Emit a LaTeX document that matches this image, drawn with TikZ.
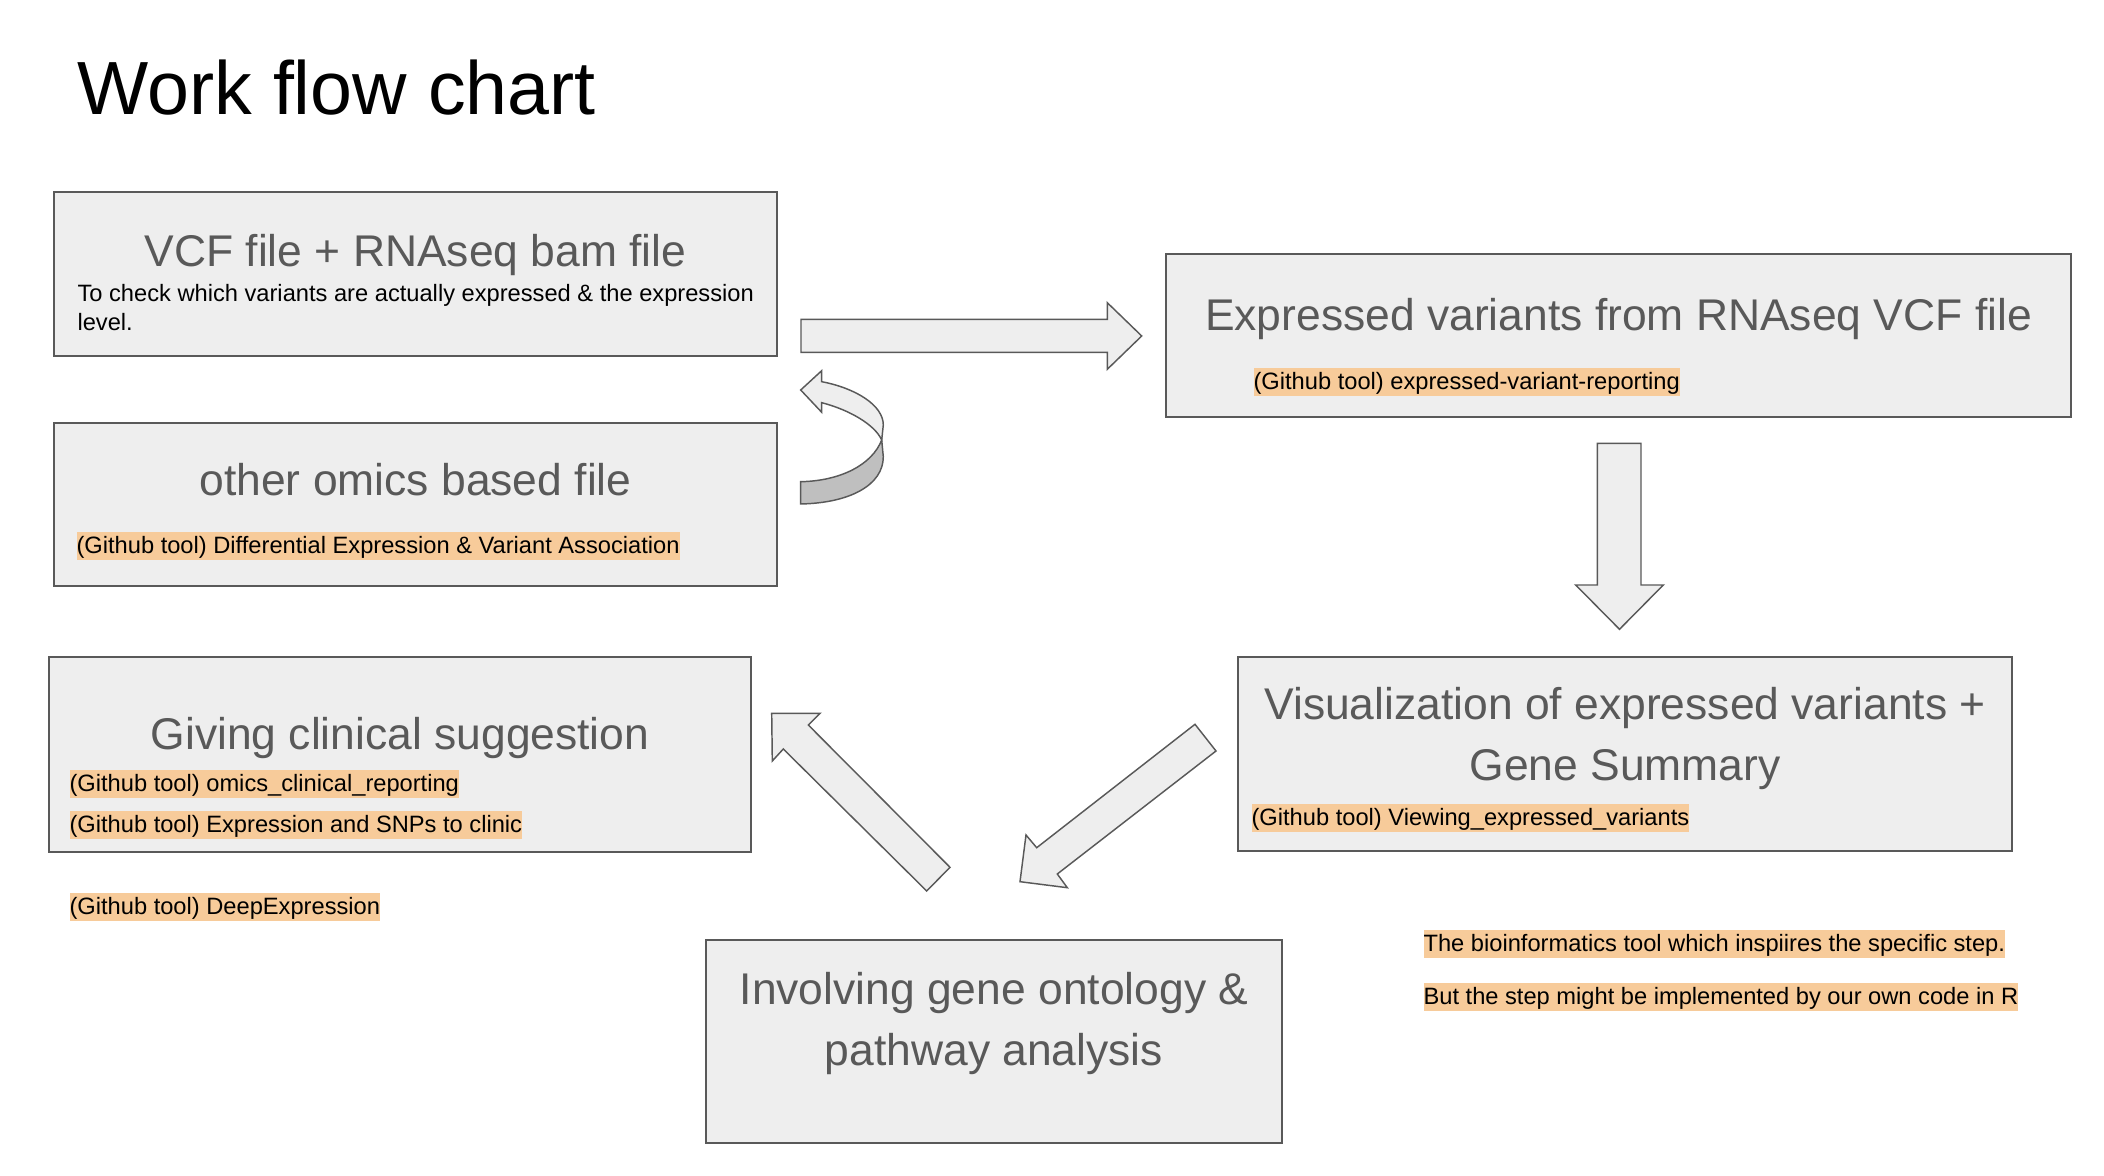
\documentclass[tikz,border=0pt]{standalone}
\usepackage{fontspec}
\setmainfont{Liberation Sans}
\usepackage{tikz}
\definecolor{boxBody}{HTML}{EEEEEE}
\definecolor{boxBorder}{HTML}{595959}
\definecolor{boxText}{HTML}{595959}
\definecolor{toolMark}{HTML}{F7CB9A}
\definecolor{arrowShade}{HTML}{BFBFBF}
\newlength{\px}
\setlength{\px}{0.34221pt}
\tikzstyle{stepbox} = [draw=boxBorder, fill=boxBody, line width=0.5pt, rectangle, inner sep=0pt]
\tikzstyle{steptitle} = [text=boxText, font={\fontsize{15.2}{21.1}\selectfont}, anchor=base,
        align=center, inner sep=0pt]
\tikzstyle{note} = [font={\fontsize{8.1}{10}\selectfont}, anchor=base west, align=left, inner sep=0pt]
\tikzstyle{tool} = [font={\fontsize{8.1}{10}\selectfont}, fill=toolMark, anchor=north west,
        inner sep=0pt, text height=7.5pt, text depth=2.1pt]
\tikzstyle{blockarrow} = [draw=boxBorder, fill=boxBody, line width=0.5pt]

\begin{document}
\begin{tikzpicture}[x=\px, y=-\px]
            \useasboundingbox (0,0) rectangle (2104,1176);
            \node [anchor=base west, inner sep=0pt, font={\fontsize{25.8}{30}\selectfont}] (chart) at (77,115) {Work flow chart};
            % input files
            \node [stepbox, minimum width=723\px, minimum height=164\px] (vcf) at (415.5,274) {};
            \node [steptitle] (vcftitle) at (415.5,267) {VCF file + RNAseq bam file};
            \node [note] (vcfnote) at (77,331) {To check which variants are actually expressed \& the expression\\level.};
            \node [stepbox, minimum width=723\px, minimum height=163\px] (omics) at (415.5,504.5) {};
            \node [steptitle] (omicstitle) at (415.5,496) {other omics based file};
            \node [tool] (omicstool) at (76,531) {(Github tool) Differential Expression \& Variant Association};
            % right column
            \node [stepbox, minimum width=905\px, minimum height=163\px] (expr) at (1618.5,335.7) {};
            \node [steptitle] (exprtitle) at (1618.5,331) {Expressed variants from RNAseq VCF file};
            \node [tool] (exprtool) at (1253,367) {(Github tool) expressed-variant-reporting};
            \node [stepbox, minimum width=774\px, minimum height=194\px] (vis) at (1625,754) {};
            \node [steptitle] (vistitle) at (1625,781) {Visualization of expressed variants +\\Gene Summary};
            \node [tool] (vistool) at (1251,803) {(Github tool) Viewing\_expressed\_variants};
            % bottom
            \node [stepbox, minimum width=576\px, minimum height=203\px] (onto) at (994,1041.5) {};
            \node [steptitle] (ontotitle) at (994,1066) {Involving gene ontology \&\\pathway analysis};
            \node [stepbox, minimum width=702\px, minimum height=195\px] (clinic) at (400,754.5) {};
            \node [steptitle] (clinictitle) at (400,750) {Giving clinical suggestion};
            \node [tool] (clinictoolA) at (69,769) {(Github tool) omics\_clinical\_reporting};
            \node [tool] (clinictoolB) at (69,810) {(Github tool) Expression and SNPs to clinic};
            \node [tool] (deeptool) at (69,892) {(Github tool) DeepExpression};
            % legend
            \node [tool] (legendA) at (1423,929) {The bioinformatics tool which inspiires the specific step.};
            \node [tool] (legendB) at (1423,982) {But the step might be implemented by our own code in R};
            % block arrows
            \draw [blockarrow] (801,319.3) -- (1107.3,319.3) -- (1107.3,302.7) -- (1141.7,336)
                -- (1107.3,369.3) -- (1107.3,352.3) -- (801,352.3) -- cycle;
            \draw [blockarrow] (1597.3,443.3) -- (1641,443.3) -- (1641,585) -- (1663.3,585)
                -- (1619.5,629.3) -- (1575.7,585) -- (1597.3,585) -- cycle;
            \draw [blockarrow] (1195,724.3) -- (1216,751) -- (1057.3,874) -- (1067.3,887.7)
                -- (1020,881.7) -- (1026,835) -- (1036.7,847.7) -- cycle;
            \draw [blockarrow] (950,867.3) -- (926.7,891) -- (783.3,749) -- (772.3,761)
                -- (771.7,713.3) -- (820,713.3) -- (808.3,725) -- cycle;
            % curved arrow
            \draw [blockarrow, fill=arrowShade] (881.7,440) .. controls (872,465) and (840,481) .. (800.7,481.7)
                -- (800.7,504) .. controls (850,503) and (883.3,485) .. (883.3,456.7) -- cycle;
            \draw [blockarrow] (800.7,390) -- (821.7,370.7) -- (821.7,381.7)
                .. controls (855,388) and (883.3,405) .. (883.3,425) -- (881.7,440)
                .. controls (875,425) and (850,410) .. (821.7,402.7) -- (821.7,412.3) -- cycle;
        \end{tikzpicture}
\end{document}
